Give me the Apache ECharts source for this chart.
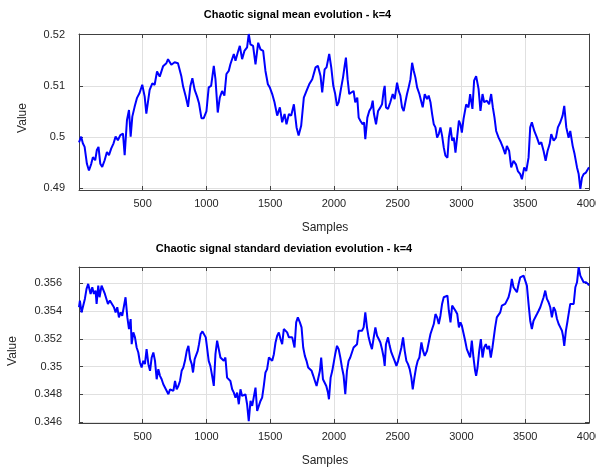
<!DOCTYPE html>
<html>
<head>
<meta charset="utf-8">
<script src="https://cdn.jsdelivr.net/npm/echarts@6/dist/echarts.min.js"></script>
<style>
  html, body { margin: 0; padding: 0; background: #ffffff; }
  #chart { width: 596px; height: 471px; }
</style>
</head>
<body>
<div id="chart"></div>
<script>
// Running mean of the chaotic signal: [sample index, value]
const meanSeries = [
  [1,0.4990],[18,0.5001],[31,0.4988],[45,0.4981],[63,0.4948],[79,0.4935],[97,0.4948],[110,0.4961],[128,0.4955],[141,0.4975],
  [154,0.4981],[168,0.4948],[183,0.4942],[202,0.4955],[220,0.4971],[236,0.4965],[254,0.4978],[272,0.4988],[288,0.5001],[306,0.4994],
  [325,0.5004],[346,0.5007],[359,0.4965],[377,0.5033],[393,0.5053],[406,0.5001],[419,0.5040],[437,0.5059],[455,0.5076],[476,0.5086],
  [497,0.5102],[516,0.5079],[529,0.5046],[555,0.5092],[576,0.5105],[594,0.5102],[613,0.5128],[634,0.5118],[660,0.5138],[686,0.5144],
  [699,0.5152],[725,0.5141],[751,0.5146],[777,0.5144],[804,0.5118],[817,0.5099],[838,0.5079],[856,0.5059],[874,0.5099],[890,0.5115],
  [908,0.5092],[927,0.5079],[942,0.5066],[961,0.5037],[979,0.5037],[1000,0.5050],
  [1018,0.5097],[1037,0.5100],[1058,0.5139],[1071,0.5113],[1089,0.5048],[1105,0.5077],[1123,0.5090],[1141,0.5081],[1157,0.5123],[1175,0.5129],
  [1188,0.5142],[1215,0.5162],[1228,0.5149],[1246,0.5165],[1262,0.5178],[1280,0.5152],[1298,0.5168],[1319,0.5175],[1332,0.5201],[1345,0.5181],
  [1366,0.5178],[1385,0.5142],[1406,0.5184],[1424,0.5171],[1445,0.5168],[1463,0.5129],[1482,0.5103],[1497,0.5097],[1516,0.5084],[1534,0.5068],
  [1555,0.5042],[1576,0.5058],[1594,0.5029],[1613,0.5045],[1628,0.5025],[1647,0.5045],[1665,0.5042],[1686,0.5064],[1707,0.5019],[1723,0.5003],
  [1743,0.5022],[1764,0.5077],[1785,0.5090],[1806,0.5103],[1830,0.5113],[1856,0.5136],[1874,0.5139],[1895,0.5119],[1908,0.5087],[1927,0.5132],
  [1942,0.5136],[1963,0.5162],[1979,0.5136],[1995,0.5100],
  [2010,0.5084],[2024,0.5061],[2037,0.5068],[2055,0.5094],[2071,0.5116],[2084,0.5139],[2094,0.5155],[2107,0.5113],[2120,0.5084],[2136,0.5087],
  [2154,0.5090],[2167,0.5068],[2183,0.5077],[2194,0.5038],[2207,0.5032],[2225,0.5025],[2236,0.5029],[2246,0.4996],[2262,0.5038],[2277,0.5051],
  [2293,0.5058],[2304,0.5071],[2314,0.5045],[2330,0.5025],[2346,0.5051],[2364,0.5058],[2377,0.5064],[2390,0.5090],[2398,0.5100],[2408,0.5058],
  [2424,0.5055],[2442,0.5068],[2461,0.5084],[2476,0.5074],[2495,0.5106],[2508,0.5090],[2521,0.5081],[2534,0.5058],[2547,0.5051],[2560,0.5068],
  [2573,0.5084],[2586,0.5097],[2600,0.5113],[2613,0.5145],[2626,0.5129],[2639,0.5116],[2652,0.5097],[2670,0.5084],[2686,0.5068],[2696,0.5058],
  [2712,0.5084],[2730,0.5074],[2743,0.5081],[2757,0.5068],[2770,0.5045],[2783,0.5025],[2796,0.5019],[2809,0.4999],[2822,0.5006],[2835,0.5019],
  [2848,0.5003],[2861,0.4980],[2874,0.4964],[2890,0.4960],[2901,0.4999],[2914,0.5019],[2927,0.4993],[2940,0.4999],[2953,0.4970],[2967,0.4973],
  [2980,0.5032],[2992,0.5025],
  [3003,0.5009],[3016,0.5035],[3037,0.5064],[3055,0.5058],[3068,0.5084],[3086,0.5055],[3099,0.5110],[3115,0.5119],[3134,0.5094],[3149,0.5051],
  [3165,0.5084],[3178,0.5068],[3199,0.5071],[3217,0.5064],[3233,0.5084],[3246,0.5058],[3259,0.5038],[3272,0.5012],[3291,0.4999],[3309,0.4990],
  [3325,0.4980],[3343,0.4967],[3356,0.4983],[3374,0.4973],[3390,0.4941],[3408,0.4954],[3427,0.4947],[3442,0.4934],[3461,0.4928],[3474,0.4918],
  [3492,0.4941],[3508,0.4934],[3526,0.4960],[3539,0.5019],[3552,0.5029],[3571,0.5012],[3592,0.4999],[3610,0.4986],[3626,0.4990],[3644,0.4973],
  [3660,0.4954],[3675,0.4973],[3691,0.4986],[3704,0.5006],[3723,0.4993],[3741,0.4999],[3756,0.5019],[3775,0.5029],[3793,0.5042],[3806,0.5061],
  [3822,0.5019],[3840,0.4999],[3853,0.5012],[3872,0.4983],[3887,0.4967],[3906,0.4941],[3919,0.4928],[3932,0.4899],[3945,0.4921],[3958,0.4928],
  [3976,0.4931],[3992,0.4938],[4000,0.4941]
];

// Running standard deviation of the chaotic signal: [sample index, value]
const stdSeries = [
  [1,0.35427],[8,0.35475],[21,0.35390],[31,0.35427],[47,0.35487],[60,0.35559],[73,0.35595],[84,0.35583],[92,0.35523],[105,0.35571],
  [118,0.35523],[131,0.35547],[139,0.35451],[152,0.35583],[162,0.35499],[178,0.35583],[191,0.35571],[204,0.35523],[217,0.35511],[228,0.35451],
  [243,0.35475],[257,0.35463],[275,0.35427],[288,0.35390],[301,0.35427],[314,0.35354],[327,0.35390],[340,0.35366],[353,0.35378],[366,0.35499],
  [380,0.35354],[393,0.35270],[406,0.35342],[414,0.35161],[427,0.35246],[440,0.35210],[453,0.35137],[466,0.35101],[479,0.35029],[492,0.34993],
  [505,0.35041],[518,0.35017],[531,0.35125],[545,0.35017],[558,0.34969],[571,0.35065],[584,0.35101],[597,0.35041],[610,0.34908],[623,0.34981],
  [636,0.34933],[649,0.34908],[662,0.34872],[675,0.34860],[689,0.34824],[702,0.34800],[715,0.34836],[728,0.34848],[741,0.34824],[754,0.34896],
  [767,0.34836],[780,0.34860],[793,0.34896],[806,0.34969],[819,0.34993],[832,0.35041],[846,0.35113],[859,0.35149],[872,0.35053],[885,0.35017],
  [895,0.34957],[908,0.35053],[921,0.35041],[932,0.35113],[942,0.35161],[955,0.35234],[969,0.35253],[982,0.35246],[995,0.35210],
  [1005,0.35137],[1018,0.35041],[1031,0.35005],[1045,0.34933],[1058,0.34860],[1071,0.35089],[1084,0.35186],[1097,0.35125],[1110,0.35065],[1123,0.35077],
  [1136,0.35041],[1149,0.35065],[1162,0.34920],[1175,0.34933],[1188,0.34896],[1202,0.34836],[1215,0.34812],[1228,0.34776],[1241,0.34812],[1254,0.34728],
  [1267,0.34836],[1280,0.34788],[1293,0.34776],[1306,0.34800],[1319,0.34728],[1332,0.34607],[1346,0.34752],[1359,0.34716],[1372,0.34704],[1385,0.34848],
  [1398,0.34680],[1411,0.34692],[1424,0.34752],[1437,0.34776],[1450,0.34860],[1463,0.34957],[1476,0.34981],[1490,0.35065],[1503,0.35065],[1516,0.35041],
  [1529,0.35089],[1542,0.35173],[1555,0.35222],[1568,0.35246],[1581,0.35198],[1594,0.35161],[1607,0.35270],[1620,0.35282],[1633,0.35246],[1647,0.35210],
  [1660,0.35222],[1673,0.35210],[1691,0.35137],[1704,0.35318],[1717,0.35354],[1733,0.35318],[1746,0.35282],[1759,0.35137],[1772,0.35077],[1785,0.35041],
  [1798,0.34993],[1812,0.34981],[1825,0.34969],[1838,0.34933],[1851,0.34896],[1864,0.34860],[1877,0.34872],[1890,0.34969],[1900,0.35065],[1914,0.34908],
  [1927,0.34908],[1940,0.34860],[1953,0.34812],[1961,0.34764],[1974,0.34920],[1987,0.34969],
  [2010,0.35089],[2024,0.35149],[2037,0.35125],[2050,0.35065],[2063,0.34993],[2076,0.34933],[2089,0.34800],[2102,0.34969],[2115,0.35041],[2128,0.35065],
  [2141,0.35053],[2154,0.35137],[2167,0.35149],[2181,0.35161],[2194,0.35258],[2207,0.35270],[2220,0.35258],[2233,0.35282],[2246,0.35390],[2259,0.35282],
  [2272,0.35210],[2286,0.35161],[2298,0.35125],[2312,0.35210],[2325,0.35282],[2338,0.35222],[2351,0.35198],[2364,0.35173],[2377,0.35125],[2390,0.35065],
  [2398,0.35005],[2408,0.35161],[2424,0.35210],[2437,0.35149],[2450,0.35101],[2463,0.35113],[2476,0.35041],[2490,0.35005],[2503,0.35041],[2516,0.35089],
  [2529,0.35137],[2542,0.35210],[2555,0.35113],[2568,0.35041],[2581,0.35017],[2594,0.34981],[2607,0.34920],[2618,0.34836],[2631,0.34920],[2644,0.34993],
  [2657,0.35041],[2670,0.35065],[2686,0.35173],[2699,0.35113],[2712,0.35077],[2730,0.35113],[2743,0.35125],[2757,0.35234],[2770,0.35270],[2783,0.35306],
  [2796,0.35378],[2809,0.35354],[2822,0.35306],[2835,0.35366],[2848,0.35451],[2861,0.35499],[2874,0.35511],[2890,0.35511],[2901,0.35402],[2914,0.35318],
  [2927,0.35439],[2940,0.35451],[2953,0.35402],[2967,0.35378],[2980,0.35282],[2992,0.35318],
  [3003,0.35294],[3016,0.35282],[3029,0.35186],[3042,0.35125],[3055,0.35137],[3068,0.35065],[3081,0.35186],[3094,0.35065],[3107,0.34969],[3115,0.34933],
  [3126,0.34993],[3139,0.35113],[3152,0.35198],[3165,0.35065],[3178,0.35137],[3191,0.35161],[3204,0.35125],[3217,0.35149],[3230,0.35065],[3243,0.35137],
  [3251,0.35149],[3264,0.35282],[3277,0.35354],[3291,0.35366],[3304,0.35390],[3317,0.35439],[3330,0.35439],[3343,0.35451],[3356,0.35475],[3369,0.35499],
  [3382,0.35547],[3395,0.35631],[3408,0.35571],[3421,0.35583],[3435,0.35535],[3448,0.35595],[3461,0.35643],[3474,0.35631],[3487,0.35655],[3500,0.35619],
  [3513,0.35583],[3526,0.35451],[3539,0.35330],[3552,0.35270],[3565,0.35330],[3578,0.35342],[3592,0.35378],[3605,0.35402],[3618,0.35427],[3631,0.35463],
  [3644,0.35499],[3657,0.35547],[3670,0.35487],[3683,0.35463],[3696,0.35427],[3709,0.35354],[3723,0.35427],[3736,0.35402],[3749,0.35342],[3762,0.35306],
  [3775,0.35282],[3788,0.35258],[3796,0.35222],[3806,0.35149],[3819,0.35258],[3832,0.35330],[3846,0.35342],[3853,0.35451],[3866,0.35463],[3880,0.35451],
  [3893,0.35571],[3906,0.35607],[3919,0.35716],[3932,0.35655],[3945,0.35631],[3958,0.35607],[3976,0.35607],[3992,0.35595],[4000,0.35583]
];

const sampleTicks = [500, 1000, 1500, 2000, 2500, 3000, 3500, 4000];
const meanTicks = [0.49, 0.5, 0.51, 0.52];
const stdTicks = [0.346, 0.348, 0.35, 0.352, 0.354, 0.356];

const meanRange = [0.4897, 0.5201];
const stdRange = [0.34593, 0.35717];
const sampleRange = [1, 4000];

const FONT = '"Liberation Sans", Arial, Helvetica, sans-serif';
const AXIS_COLOR = '#404040';
const LABEL_COLOR = '#262626';
const GRID_COLOR = '#e0e0e0';
const LINE_COLOR = '#0000ff';

const tickText = v => String(+Number(v).toFixed(4));

function sampleAxes(gridIndex) {
  const common = {
    type: 'value', gridIndex, min: sampleRange[0], max: sampleRange[1],
    axisLine: { show: true, onZero: false, lineStyle: { color: AXIS_COLOR, width: 1 } },
    axisTick: { show: true, inside: true, length: 4, customValues: sampleTicks,
                lineStyle: { color: AXIS_COLOR } }
  };
  return [
    Object.assign({}, common, {
      position: 'bottom',
      axisLabel: { show: true, customValues: sampleTicks, formatter: tickText,
                   color: LABEL_COLOR, fontSize: 11, fontFamily: FONT, margin: 8 },
      splitLine: { show: true, lineStyle: { color: GRID_COLOR, width: 1 } }
    }),
    Object.assign({}, common, {
      position: 'top',
      axisLabel: { show: false },
      splitLine: { show: false }
    })
  ];
}

function valueAxes(gridIndex, range, ticks, margin) {
  const common = {
    type: 'value', gridIndex, min: range[0], max: range[1], scale: true,
    axisLine: { show: true, onZero: false, lineStyle: { color: AXIS_COLOR, width: 1 } },
    axisTick: { show: true, inside: true, length: 4, customValues: ticks,
                lineStyle: { color: AXIS_COLOR } }
  };
  return [
    Object.assign({}, common, {
      position: 'left',
      axisLabel: { show: true, customValues: ticks, formatter: tickText,
                   color: LABEL_COLOR, fontSize: 11, fontFamily: FONT, margin },
      splitLine: { show: true, lineStyle: { color: GRID_COLOR, width: 1 } }
    }),
    Object.assign({}, common, {
      position: 'right',
      axisLabel: { show: false },
      splitLine: { show: false }
    })
  ];
}

function label(text, x, y, opts) {
  opts = opts || {};
  return {
    type: 'text', x, y, rotation: opts.rotation || 0, silent: true,
    style: {
      text, fill: opts.color || LABEL_COLOR,
      font: (opts.bold ? 'bold ' : '') + (opts.size || 12) + 'px ' + FONT,
      textAlign: 'center', align: 'center',
      textVerticalAlign: 'middle', verticalAlign: 'middle'
    }
  };
}

const chart = echarts.init(document.getElementById('chart'), null, { renderer: 'canvas' });

chart.setOption({
  animation: false,
  backgroundColor: '#ffffff',
  grid: [
    { left: 79, top: 34, width: 510, height: 156, containLabel: false, outerBoundsMode: 'none' },
    { left: 79, top: 267, width: 510, height: 156, containLabel: false, outerBoundsMode: 'none' }
  ],
  xAxis: [].concat(sampleAxes(0), sampleAxes(1)),
  yAxis: [].concat(
    valueAxes(0, meanRange, meanTicks, 14),
    valueAxes(1, stdRange, stdTicks, 17)
  ),
  series: [
    {
      name: 'Mean', type: 'line', xAxisIndex: 0, yAxisIndex: 0,
      data: meanSeries, showSymbol: false, symbol: 'none',
      lineStyle: { color: LINE_COLOR, width: 2 }, clip: true
    },
    {
      name: 'Standard deviation', type: 'line', xAxisIndex: 2, yAxisIndex: 2,
      data: stdSeries, showSymbol: false, symbol: 'none',
      lineStyle: { color: LINE_COLOR, width: 2 }, clip: true
    }
  ],
  graphic: [
    label('Chaotic signal mean evolution - k=4', 297.5, 15, { bold: true, size: 11, color: '#000000' }),
    label('Chaotic signal standard deviation evolution - k=4', 284, 249, { bold: true, size: 11, color: '#000000' }),
    label('Samples', 325, 228),
    label('Samples', 325, 461),
    label('Value', 23, 118, { rotation: Math.PI / 2 }),
    label('Value', 13, 351, { rotation: Math.PI / 2 })
  ]
});
</script>
</body>
</html>
